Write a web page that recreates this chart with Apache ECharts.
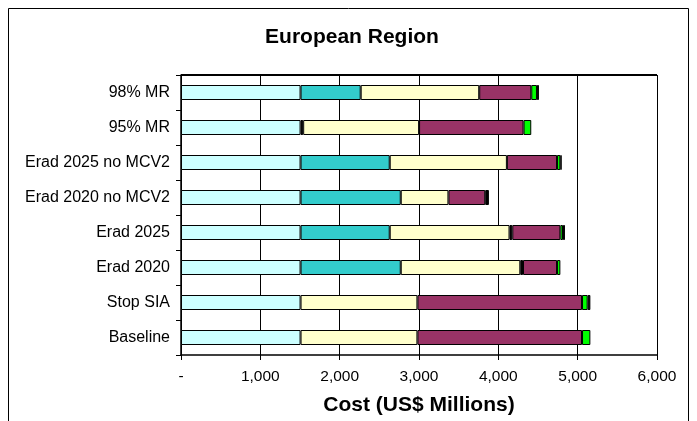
<!DOCTYPE html>
<html>
<head>
<meta charset="utf-8">
<script src="https://cdn.jsdelivr.net/npm/echarts@6/dist/echarts.min.js"></script>
<style>
html,body{margin:0;padding:0;background:#fff;}
#chart{width:697px;height:421px;}
</style>
</head>
<body>
<div id="chart"></div>
<script>
// Categories (bottom to top)
var categories = ['Baseline','Stop SIA','Erad 2020','Erad 2025','Erad 2020 no MCV2','Erad 2025 no MCV2','95% MR','98% MR'];
// Segment values (US$ millions), same order as categories
var segCyan   = [1507, 1507, 1507, 1507, 1507, 1507, 1507, 1507];
var segBlackA = [null, null, null, null, null, null, 33, null];
var segTeal   = [null, null, 1263, 1124, 1263, 1124, null, 758];
var segYellow = [1473, 1473, 1507, 1510, 601, 1477, 1461, 1494];
var segBlackB = [null, null, 34, 35, null, null, null, null];
var segMaroon = [2075, 2075, 429, 606, 464, 632, 1317, 656];
var segGreen  = [105, 71, 42, 33, null, 42, 97, 72];
var segBlackC = [null, 34, null, 25, 46, 16, null, 25];
var xTicks = [0, 1000, 2000, 3000, 4000, 5000, 6000];

var font = 'Liberation Sans, Arial, sans-serif';
function mk(name, data, color){
  return {
    name: name, type: 'bar', stack: 'total', data: data, barWidth: 15,
    itemStyle: {color: color, borderColor: '#000', borderWidth: 1},
    emphasis: {disabled: true}
  };
}
var chart = echarts.init(document.getElementById('chart'), null, {renderer: 'canvas'});
chart.setOption({
  animation: false,
  backgroundColor: '#fff',
  title: {
    text: 'European Region', left: 347, top: 22, textAlign: 'center',
    textStyle: {fontFamily: font, fontSize: 21, fontWeight: 'bold', color: '#000'}
  },
  grid: {left: 181, right: 40, top: 75, bottom: 65, show: false},
  xAxis: {
    type: 'value', min: xTicks[0], max: xTicks[xTicks.length - 1], interval: 1000,
    name: 'Cost (US$ Millions)', nameLocation: 'middle', nameGap: 40,
    nameTextStyle: {fontFamily: font, fontSize: 21, fontWeight: 'bold', color: '#000'},
    axisLine: {show: true, lineStyle: {color: '#000', width: 1.5}},
    axisTick: {show: true, length: 5, lineStyle: {color: '#000'}},
    axisLabel: {
      fontFamily: font, fontSize: 15.5, color: '#000', margin: 14,
      formatter: function(v){ return v === 0 ? '-' : v.toLocaleString('en-US'); }
    },
    splitLine: {show: true, lineStyle: {color: '#000', width: 1}}
  },
  yAxis: {
    type: 'category', data: categories,
    axisLine: {show: true, lineStyle: {color: '#000', width: 1.5}},
    axisTick: {show: true, length: 5, lineStyle: {color: '#000'}},
    axisLabel: {fontFamily: font, fontSize: 16, color: '#000', margin: 11},
    splitLine: {show: false}
  },
  series: [
    mk('Cyan', segCyan, '#CCFFFF'),
    mk('BlackA', segBlackA, '#000000'),
    mk('Teal', segTeal, '#33CCCC'),
    mk('Yellow', segYellow, '#FFFFCC'),
    mk('BlackB', segBlackB, '#000000'),
    mk('Maroon', segMaroon, '#993366'),
    mk('Green', segGreen, '#00FF00'),
    mk('BlackC', segBlackC, '#000000')
  ]
});
// Frame: outer chart border and plot-area top edge (taken from the grid's own rect)
var rect = chart.getModel().getComponent('grid', 0).coordinateSystem.getRect();
chart.setOption({
  graphic: [{
    type: 'rect', left: 6, top: 6, silent: true, z: 100,
    shape: {x: 0, y: 0, width: 680, height: 430},
    style: {fill: 'none', stroke: '#000', lineWidth: 1}
  }, {
    type: 'line', silent: true, z: 100,
    shape: {x1: rect.x, y1: rect.y, x2: rect.x + rect.width, y2: rect.y},
    style: {stroke: '#000', lineWidth: 2}
  }]
});
</script>
</body>
</html>
